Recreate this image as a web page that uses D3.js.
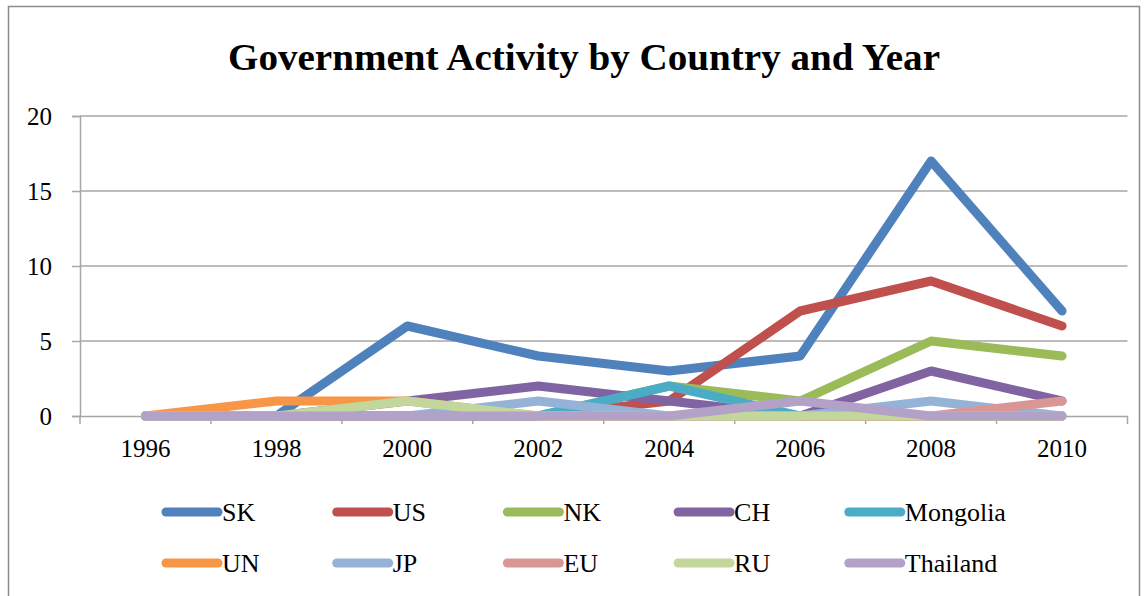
<!DOCTYPE html>
<html><head><meta charset="utf-8">
<script src="https://cdn.jsdelivr.net/npm/d3@7"></script>
<style>body{margin:0;background:#fff}svg{display:block}</style>
</head><body><svg id="c" width="1146" height="596"></svg>
<script>
const years = ["1996","1998","2000","2002","2004","2006","2008","2010"];
const seriesNames = ["SK","US","NK","CH","Mongolia","UN","JP","EU","RU","Thailand"];
const SK       = [0,0,6,4,3,4,17,7];
const US       = [0,0,0,0,1,7,9,6];
const NK       = [0,0,0,0,2,1,5,4];
const CH       = [0,0,1,2,1,0,3,1];
const Mongolia = [0,0,0,0,2,0,0,0];
const UN       = [0,1,1,0,0,0,0,0];
const JP       = [0,0,0,1,0,0,1,0];
const EU       = [0,0,0,0,0,0,0,1];
const RU       = [0,0,1,0,0,0,0,0];
const Thailand = [0,0,0,0,0,1,0,0];
const yTicks = [0,5,10,15,20];
const colors = ["#4F81BD","#C0504D","#9BBB59","#8064A2","#4BACC6","#F79646","#95B3D7","#D99694","#C3D69B","#B3A2C7"];
const values = [SK,US,NK,CH,Mongolia,UN,JP,EU,RU,Thailand];

const svg = d3.select("#c");
const font = "'Liberation Serif', 'DejaVu Serif', serif";
svg.append("rect").attr("x",8.5).attr("y",6.5).attr("width",1131).attr("height",600)
  .attr("fill","#fff").attr("stroke","#8c8c8c").attr("stroke-width",1.5);

svg.append("text").attr("x",584).attr("y",70).attr("text-anchor","middle")
  .attr("font-family",font).attr("font-weight","bold").attr("font-size",37)
  .attr("textLength",712).attr("lengthAdjust","spacingAndGlyphs")
  .text("Government Activity by Country and Year");

const L=80, R=1127.5, T=116, B=416;
const x = d3.scaleBand().domain(years).range([L,R]);
const y = d3.scaleLinear().domain([0,20]).range([B,T]);

svg.append("g").selectAll("line").data(yTicks.filter(d=>d>0)).join("line")
  .attr("x1",L).attr("x2",R).attr("y1",d=>y(d)).attr("y2",d=>y(d))
  .attr("stroke","#a6a6a6").attr("stroke-width",1.5);

const yAx = svg.append("g").attr("transform",`translate(${L},0)`)
  .call(d3.axisLeft(y).tickValues(yTicks).tickSize(8).tickPadding(20));
yAx.select(".domain").attr("stroke","#a6a6a6").attr("stroke-width",1.5);
yAx.selectAll(".tick line").attr("stroke","#a6a6a6").attr("stroke-width",1.5);
yAx.selectAll("text").attr("font-family",font).attr("font-size",25).attr("fill","#000")
  .attr("text-anchor","end");

const xAx = svg.append("g").attr("transform",`translate(0,${B})`)
  .call(d3.axisBottom(x).tickSize(0).tickPadding(23));
xAx.select(".domain").attr("stroke","#a6a6a6").attr("stroke-width",1.5);
xAx.selectAll("text").attr("font-family",font).attr("font-size",25).attr("fill","#000");
xAx.append("g").selectAll("line").data(d3.range(years.length+1)).join("line")
  .attr("x1",i=>L+i*x.step()).attr("x2",i=>L+i*x.step()).attr("y1",0).attr("y2",8)
  .attr("stroke","#a6a6a6").attr("stroke-width",1.5);

const line = d3.line().x((d,i)=>x(years[i])+x.bandwidth()/2).y(d=>y(d));
svg.append("g").selectAll("path").data(values).join("path")
  .attr("d",d=>line(d)).attr("fill","none")
  .attr("stroke",(d,i)=>colors[i]).attr("stroke-width",9)
  .attr("stroke-linecap","round").attr("stroke-linejoin","round");

const lg = svg.append("g");
seriesNames.forEach((n,i)=>{
  const col = i%5, row = Math.floor(i/5);
  const lx = 166 + col*170.7, ly = 512 + row*51;
  lg.append("line").attr("x1",lx).attr("x2",lx+52).attr("y1",ly).attr("y2",ly)
    .attr("stroke",colors[i]).attr("stroke-width",9).attr("stroke-linecap","round");
  lg.append("text").attr("x",lx+56).attr("y",ly+9).attr("font-family",font)
    .attr("font-size",26).attr("fill","#000").text(n);
});
</script></body></html>
